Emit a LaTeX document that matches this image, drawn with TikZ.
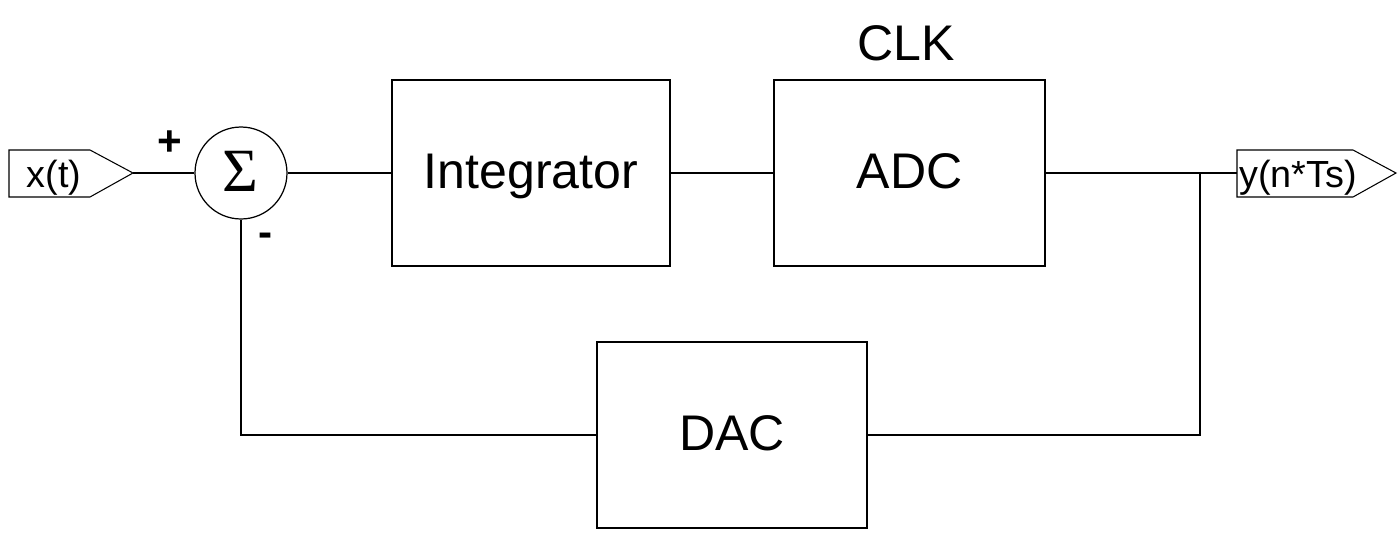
\documentclass[tikz,border=0pt]{standalone}
\usepackage{fontspec}
\setmainfont{Liberation Sans}
\newfontfamily\sigmafont{Liberation Serif}
\begin{document}
\begin{tikzpicture}[x=0.02cm,y=-0.02cm,
  blk/.style={draw,line width=1.1pt,minimum width=5.5cm,minimum height=3.72cm,inner sep=0pt,text height=20.4pt,text depth=2.3pt,font=\fontsize{28.5}{32}\selectfont},
  wire/.style={line width=1.6pt},
  port/.style={draw,line width=0.6pt},
  ptext/.style={inner sep=0pt,anchor=base,font=\fontsize{21.5}{24}\selectfont},
  sign/.style={inner sep=0pt,font=\fontsize{24}{26}\selectfont\bfseries}]
\useasboundingbox (0,0) rectangle (1399,534);
% ports
\draw[port] (9,150) -- (90,150) -- (133,173) -- (90,197) -- (9,197) -- cycle;
\coordinate (xtip) at (133,173);
\node[ptext] (xt) at (54,187) {x(t)};
\draw[port] (1237,150) -- (1353,150) -- (1396,173) -- (1353,197) -- (1237,197) -- cycle;
\coordinate (yin) at (1237,173);
\node[ptext] (yt) at (1298,187) {y(n*Ts)};
% sum
\node[draw,circle,line width=0.7pt,minimum size=1.84cm,inner sep=0pt] (sum) at (241,173) {};
\node[inner sep=0pt,font=\fontsize{35}{38}\sigmafont] (sig) at (240,171) {Σ};
\node[sign] (plus) at (170,143) {+};
\node[sign] (minus) at (266,240) {-};
% blocks
\node[blk,minimum width=5.56cm] (int) at (531,173) {Integrator};
\node[blk,minimum width=5.42cm] (adc) at (909.5,173) {ADC};
\node[blk,minimum width=5.4cm] (dac) at (732,435) {DAC};
\node[inner sep=0pt,anchor=base,font=\fontsize{28.5}{32}\selectfont] (clk) at (906,60) {CLK};
% wires
\coordinate (jn) at (1200,173);
\draw[wire] (xtip) -- (sum.west);
\draw[wire] (sum.east) -- (int.west);
\draw[wire] (int.east) -- (adc.west);
\draw[wire] (adc.east) -- (yin);
\draw[wire] (jn) |- (dac.east);
\draw[wire] (dac.west) -| (sum.south);
\end{tikzpicture}
\end{document}
